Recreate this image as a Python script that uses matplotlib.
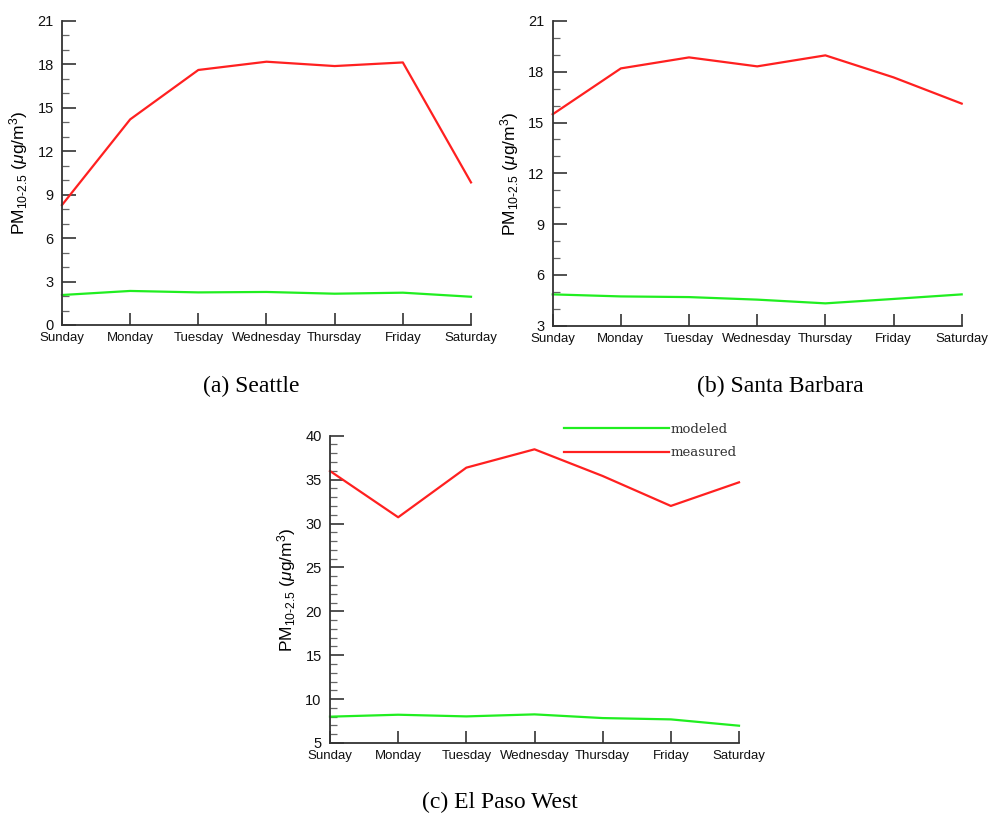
import matplotlib
matplotlib.use("Agg")
import matplotlib.pyplot as plt
from matplotlib.ticker import MultipleLocator

days = ["Sunday", "Monday", "Tuesday", "Wednesday", "Thursday", "Friday", "Saturday"]

seattle_measured = [8.28, 14.19, 17.6, 18.17, 17.87, 18.12, 9.84]
seattle_modeled = [2.07, 2.35, 2.25, 2.28, 2.16, 2.23, 1.95]

sb_measured = [15.49, 18.2, 18.85, 18.32, 18.97, 17.67, 16.12]
sb_modeled = [4.85, 4.73, 4.69, 4.54, 4.32, 4.58, 4.85]

ep_measured = [35.98, 30.71, 36.36, 38.45, 35.41, 32.0, 34.69]
ep_modeled = [8.0, 8.22, 8.03, 8.26, 7.84, 7.69, 6.97]

captions = ["(a) Seattle", "(b) Santa Barbara", "(c) El Paso West"]

RED = "#ff2020"
GREEN = "#20ee20"
SPINE = "#333333"

plt.rcParams["font.family"] = ["Liberation Sans", "DejaVu Sans"]
plt.rcParams["mathtext.fontset"] = "custom"
plt.rcParams["mathtext.rm"] = "Liberation Sans"
plt.rcParams["mathtext.it"] = "Liberation Sans:italic"

fig = plt.figure(figsize=(9.89, 8.14), dpi=100)

W, H = 989.0, 814.0


def make_ax(x0, x1, ytop, ybot):
    return fig.add_axes([x0 / W, 1 - ybot / H, (x1 - x0) / W, (ybot - ytop) / H])


def style(ax, ylim, major, minor):
    x = list(range(len(days)))
    ax.set_xlim(0, len(days) - 1)
    ax.set_ylim(*ylim)
    ax.set_xticks(x)
    ax.set_xticklabels(days)
    ax.yaxis.set_major_locator(MultipleLocator(major))
    ax.yaxis.set_minor_locator(MultipleLocator(minor))
    for s in ["top", "right"]:
        ax.spines[s].set_visible(False)
    for s in ["left", "bottom"]:
        ax.spines[s].set_color(SPINE)
        ax.spines[s].set_linewidth(1.3)
    ax.tick_params(axis="y", which="major", direction="in", length=10, width=1.2,
                   color=SPINE, labelsize=10.5, pad=6, labelcolor="#111111")
    ax.tick_params(axis="y", which="minor", direction="in", length=5, width=0.9,
                   color="#666666")
    ax.tick_params(axis="x", which="major", direction="in", length=8.5, width=1.2,
                   color=SPINE, labelsize=9.5, pad=5, labelcolor="#111111")
    ax.set_ylabel(r"PM$_{10\text{-}2.5}$ ($\mathit{\mu}$g/m$^3$)", fontsize=12.5, labelpad=5)


def plot(ax, measured, modeled):
    x = list(range(len(days)))
    l1, = ax.plot(x, modeled, color=GREEN, lw=1.6, label="modeled", clip_on=False)
    l2, = ax.plot(x, measured, color=RED, lw=1.6, label="measured", clip_on=False)
    return l1, l2


ax1 = make_ax(62, 471, 20.7, 325)
plot(ax1, seattle_measured, seattle_modeled)
style(ax1, (0, 21), 3, 1)

ax2 = make_ax(552.7, 961.7, 21, 325.7)
plot(ax2, sb_measured, sb_modeled)
style(ax2, (3, 21), 3, 1)

ax3 = make_ax(330, 739, 435.7, 743)
l1, l2 = plot(ax3, ep_measured, ep_modeled)
style(ax3, (5, 40), 5, 1)

leg = ax3.legend(handles=[l1, l2], loc="upper left",
                 bbox_to_anchor=(552 / W, 1 - 411 / H), bbox_transform=fig.transFigure,
                 frameon=False, handlelength=7.95, handletextpad=0.1, labelspacing=0.78,
                 prop={"family": "DejaVu Serif", "size": 9.5, "style": "normal"})
for t in leg.get_texts():
    t.set_color("#333333")

fig.text(251 / W, 1 - 386 / H, captions[0], ha="center", va="center",
         family="Liberation Serif", fontsize=17)
fig.text(780 / W, 1 - 386 / H, captions[1], ha="center", va="center",
         family="Liberation Serif", fontsize=17)
fig.text(500 / W, 1 - 802 / H, captions[2], ha="center", va="center",
         family="Liberation Serif", fontsize=17)

fig.savefig("out.png", dpi=100)
